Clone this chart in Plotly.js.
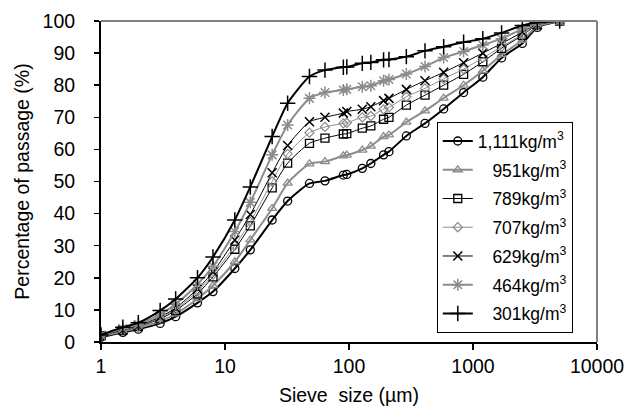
<!DOCTYPE html>
<html>
<head>
<meta charset="utf-8">
<script src="https://cdn.plot.ly/plotly-3.0.1.min.js"></script>
<style>html,body{margin:0;padding:0;background:#fff}#chart{width:630px;height:412px}</style>
</head>
<body>
<div id="chart"></div>
<script>
// Sieve sizes (µm)
const sieveSize = [1, 1.5, 2, 3, 4, 6, 8, 12, 16, 24, 32, 48, 64, 90, 96, 128, 150, 190, 210, 290, 410, 580, 840, 1200, 1700, 2500, 3300, 5000];

// Percentage of passage (%) per density
const d1111 = [1.5, 3.0, 4.0, 5.8, 7.9, 12.2, 15.7, 22.9, 28.7, 38.0, 43.9, 49.4, 50.2, 52.0, 52.2, 54.1, 55.6, 58.3, 59.3, 64.2, 68.1, 72.6, 77.7, 82.5, 88.5, 93.0, 98.0, 100];
const d951  = [1.8, 3.3, 4.4, 6.5, 8.8, 13.5, 17.6, 25.0, 31.8, 41.6, 49.5, 55.5, 56.2, 58.0, 58.2, 59.8, 61.0, 64.0, 64.5, 68.5, 72.0, 76.0, 80.0, 84.5, 89.5, 94.0, 98.3, 100];
const d789  = [2.0, 3.6, 4.8, 7.2, 9.8, 15.0, 20.3, 28.9, 36.2, 48.0, 55.7, 61.9, 63.5, 64.8, 64.9, 66.6, 67.3, 69.4, 70.0, 73.8, 76.9, 80.0, 83.4, 87.3, 91.5, 95.5, 98.8, 100];
const d707  = [2.0, 3.6, 4.9, 7.5, 10.2, 15.8, 21.0, 30.0, 37.5, 50.0, 58.6, 65.2, 67.0, 68.1, 68.3, 70.0, 70.4, 72.5, 73.1, 76.4, 79.0, 82.0, 85.0, 88.5, 92.0, 95.8, 98.9, 100];
const d629  = [2.0, 3.8, 5.1, 7.8, 10.6, 16.5, 21.8, 31.8, 39.7, 52.7, 61.2, 68.6, 70.0, 71.3, 71.8, 72.5, 73.3, 75.2, 75.9, 78.7, 81.4, 84.0, 87.0, 90.0, 93.0, 96.5, 99.0, 100];
const d464  = [2.1, 4.2, 5.5, 8.6, 11.8, 18.0, 23.6, 34.4, 43.5, 58.3, 67.6, 75.9, 77.7, 78.5, 78.7, 79.5, 79.8, 81.4, 81.8, 83.5, 85.8, 88.6, 90.5, 92.5, 94.5, 97.5, 99.3, 100];
const d301  = [2.2, 4.6, 6.0, 9.8, 13.4, 20.0, 26.5, 38.0, 48.3, 64.0, 74.4, 82.7, 84.7, 85.6, 85.7, 86.8, 87.1, 87.9, 88.0, 88.9, 90.7, 92.0, 93.4, 94.5, 96.3, 98.6, 99.5, 100];

const seriesNames = ["1,111kg/m<sup>3</sup>", "\u2007\u2008951kg/m<sup>3</sup>", "\u2007\u2008789kg/m<sup>3</sup>", "\u2007\u2008707kg/m<sup>3</sup>", "\u2007\u2008629kg/m<sup>3</sup>", "\u2007\u2008464kg/m<sup>3</sup>", "\u2007\u2008301kg/m<sup>3</sup>"];
const seriesValues = [d1111, d951, d789, d707, d629, d464, d301];

const xTickVals = [1, 10, 100, 1000, 10000];
const xTickText = ["1", "10", "100", "1000", "10000"];
const yTickVals = [0, 10, 20, 30, 40, 50, 60, 70, 80, 90, 100];

const BLACK = "#000000", GRAY = "#8c8c8c";
const styles = [
  {color: BLACK, width: 2, symbol: "circle-open", size: 8, mw: 1.3},
  {color: GRAY, width: 2, symbol: "triangle-up-open", size: 8, mw: 1.3},
  {color: BLACK, width: 1, symbol: "square-open", size: 8, mw: 1.3},
  {color: GRAY, width: 1, symbol: "diamond-open", size: 7, mw: 1.2},
  {color: BLACK, width: 1, symbol: "x-thin-open", size: 9, mw: 1.5},
  {color: GRAY, width: 2, symbol: "asterisk-open", size: 10, mw: 1.5},
  {color: BLACK, width: 2, symbol: "cross-thin-open", size: 11, mw: 1.5}
];

const traces = seriesValues.map((vals, i) => ({
  type: "scatter",
  mode: "lines+markers",
  x: sieveSize,
  y: vals,
  name: seriesNames[i],
  legendgroup: "g" + i,
  line: {color: styles[i].color, width: styles[i].width, shape: "spline", smoothing: 0.6},
  marker: {symbol: styles[i].symbol, size: styles[i].size, color: styles[i].color,
           line: {color: styles[i].color, width: styles[i].mw}}
}));

const FONT = "Liberation Sans, Arial, sans-serif";
const layout = {
  width: 630, height: 412,
  margin: {l: 101, r: 33, t: 21, b: 70},
  paper_bgcolor: "#fff", plot_bgcolor: "#fff",
  font: {family: FONT, size: 19, color: "#000"},
  showlegend: true,
  legend: {
    x: 0.677, y: 0.685, xanchor: "left", yanchor: "top",
    bordercolor: "#000", borderwidth: 1, bgcolor: "#fff",
    font: {family: FONT, size: 17.5, color: "#000"},
    tracegroupgap: 3
  },
  xaxis: {
    type: "log", range: [0, 4],
    tickvals: xTickVals, ticktext: xTickText,
    ticks: "outside", ticklen: 6, tickwidth: 1.5, tickcolor: "#000",
    showline: true, linecolor: "#000", linewidth: 2,
    showgrid: false, zeroline: false,
    tickfont: {family: FONT, size: 19.5},
    title: {text: "Sieve\u00a0 size (µm)", font: {family: FONT, size: 19.5}, standoff: 12}
  },
  yaxis: {
    range: [0, 100], tickvals: yTickVals,
    ticks: "outside", ticklen: 5, tickwidth: 1.5, tickcolor: "#000",
    ticklabelstandoff: 15,
    showline: true, linecolor: "#000", linewidth: 2,
    showgrid: false, zeroline: false,
    tickfont: {family: FONT, size: 19.5},
    title: {text: "Percentage of passage (%)", font: {family: FONT, size: 19.5}, standoff: 8}
  },
  shapes: [
    {type: "line", xref: "paper", yref: "paper", x0: 0, x1: 1, y0: 1, y1: 1, line: {color: "#808080", width: 2}},
    {type: "line", xref: "paper", yref: "paper", x0: 1, x1: 1, y0: 0, y1: 1, line: {color: "#808080", width: 2}}
  ]
};

Plotly.newPlot("chart", traces, layout, {staticPlot: true, displayModeBar: false});
</script>
</body>
</html>
